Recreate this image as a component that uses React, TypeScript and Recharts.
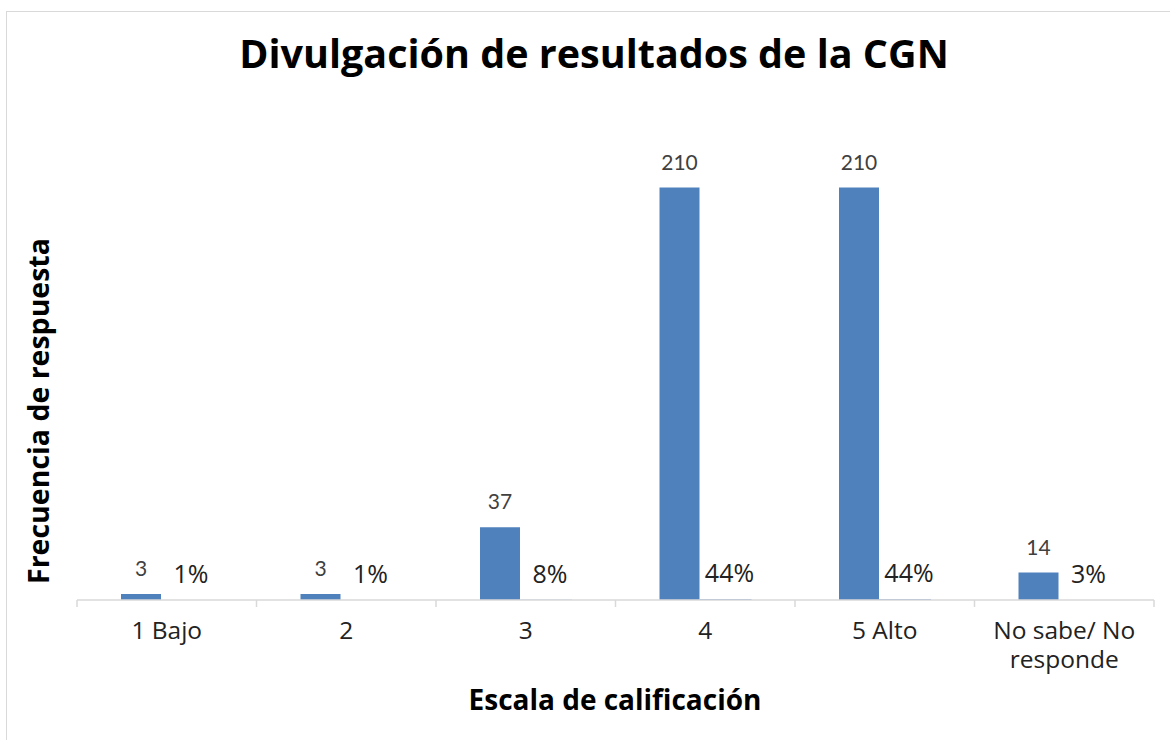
import React from "react";
import { BarChart, Bar, XAxis, YAxis, LabelList } from "recharts";

const categories = ["1 Bajo", "2", "3", "4", "5 Alto", "No sabe/ No responde"];
const frecuencia = [3, 3, 37, 210, 210, 14];
const porcentaje = [0.01, 0.01, 0.08, 0.44, 0.44, 0.03];

const data = categories.map((name, i) => ({
  name,
  frecuencia: frecuencia[i],
  porcentaje: porcentaje[i],
}));

const BLUE = "#4f81bd";
const GRID = "#d9d9d9";
const FONT = "'Open Sans', sans-serif";

// greedy wrap, ~11 chars per line
function wrap(label: string, max = 11) {
  const lines: string[] = [];
  let cur = "";
  for (const w of label.split(" ")) {
    const next = cur ? cur + " " + w : w;
    if (next.length > max && cur) {
      lines.push(cur);
      cur = w;
    } else {
      cur = next;
    }
  }
  if (cur) lines.push(cur);
  return lines;
}

// tick marks sit on the category boundaries, like in Excel
function CategoryTick(props: any) {
  const { x, y, payload, index, visibleTicksCount } = props;
  const half = payload?.offset || 89.75;
  const top = y - 22;
  const last = index === (visibleTicksCount ?? categories.length) - 1;
  return (
    <g>
      <line x1={x - half} x2={x - half} y1={top} y2={top + 7} stroke={GRID} strokeWidth={1.5} />
      {last && <line x1={x + half} x2={x + half} y1={top} y2={top + 7} stroke={GRID} strokeWidth={1.5} />}
      {wrap(String(payload.value)).map((line, i) => (
        <text key={i} x={x} y={y + i * 29} dy="0.71em" textAnchor="middle" fontSize={24.5} fontFamily={FONT} fill="#222">
          {line}
        </text>
      ))}
    </g>
  );
}

export default function App() {
  return (
    <div style={{ position: "absolute", left: 0, top: 0, width: 1170, height: 740, overflow: "hidden", background: "#fff" }}>
      <div
        style={{
          position: "absolute",
          left: 6,
          top: 11,
          width: 1300,
          height: 900,
          border: `1.5px solid ${GRID}`,
        }}
      />
      <div
        style={{
          position: "absolute",
          left: 0,
          top: 29,
          width: 1188,
          textAlign: "center",
          fontFamily: FONT,
          fontWeight: 700,
          fontSize: 39.5,
          color: "#000",
          lineHeight: "48px",
          whiteSpace: "nowrap",
        }}
      >
        Divulgación de resultados de la CGN
      </div>
      <div
        style={{
          position: "absolute",
          left: 38,
          top: 411,
          transform: "translate(-50%, -50%) rotate(-90deg)",
          whiteSpace: "nowrap",
          fontFamily: FONT,
          fontWeight: 700,
          fontSize: 28.5,
          color: "#000",
        }}
      >
        Frecuencia de respuesta
      </div>
      <div
        style={{
          position: "absolute",
          left: 615,
          top: 699,
          transform: "translate(-50%, -50%)",
          whiteSpace: "nowrap",
          fontFamily: FONT,
          fontWeight: 700,
          fontSize: 28,
          color: "#000",
        }}
      >
        Escala de calificación
      </div>
      <div style={{ position: "absolute", left: 0, top: 0 }}>
        <BarChart
          width={1170}
          height={740}
          data={data}
          margin={{ top: 109, right: 16, bottom: 0, left: 77 }}
          barGap={0}
        >
          <YAxis hide domain={[0, 250]} />
          <XAxis
            dataKey="name"
            height={140}
            axisLine={{ stroke: GRID, strokeWidth: 1.5 }}
            tickLine={false}
            tickSize={6}
            tickMargin={16}
            interval={0}
            tick={<CategoryTick />}
          />
          <Bar dataKey="frecuencia" fill={BLUE} barSize={40} isAnimationActive={false}>
            <LabelList
              dataKey="frecuencia"
              position="top"
              offset={18}
              fill="#404040"
              fontSize={21}
              fontFamily="Lato, sans-serif"
            />
          </Bar>
          <Bar dataKey="porcentaje" fill={BLUE} barSize={52} isAnimationActive={false}>
            <LabelList
              dataKey="porcentaje"
              position="top"
              offset={17}
              dx={4}
              fill="#222"
              fontSize={25}
              fontFamily={FONT}
              formatter={(v: any) => `${Math.round(Number(v) * 100)}%`}
            />
          </Bar>
        </BarChart>
      </div>
    </div>
  );
}
